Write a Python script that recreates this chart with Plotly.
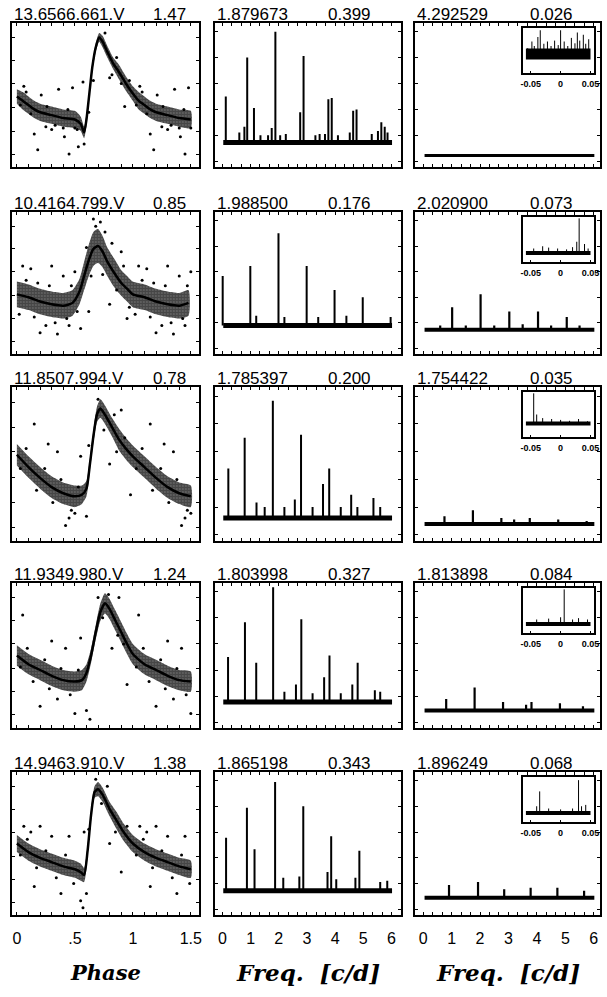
import plotly.graph_objects as go

# ---------------- data ----------------
star_ids = ["13.6566.661.V", "10.4164.799.V", "11.8507.994.V", "11.9349.980.V", "14.9463.910.V"]
star_amp = ["1.47", "0.85", "0.78", "1.24", "1.38"]
f1_text = ["1.879673", "1.988500", "1.785397", "1.803998", "1.865198"]
a1_text = ["0.399", "0.176", "0.200", "0.327", "0.343"]
f2_text = ["4.292529", "2.020900", "1.754422", "1.813898", "1.896249"]
a2_text = ["0.026", "0.073", "0.035", "0.084", "0.068"]

# light curves (relative brightness, 0 = bottom of frame, 1 = top)
lc_phase = [
    [0.00, 0.05, 0.10, 0.15, 0.20, 0.30, 0.40, 0.50, 0.55, 0.58, 0.60, 0.625, 0.65, 0.68, 0.71, 0.74, 0.78, 0.83, 0.88, 0.94, 1.00],
    [0.00, 0.10, 0.20, 0.30, 0.40, 0.48, 0.54, 0.58, 0.62, 0.66, 0.70, 0.74, 0.78, 0.84, 0.90, 0.95, 1.00],
    [0.00, 0.10, 0.20, 0.30, 0.40, 0.50, 0.56, 0.60, 0.63, 0.66, 0.69, 0.72, 0.76, 0.82, 0.88, 0.94, 1.00],
    [0.00, 0.10, 0.20, 0.30, 0.40, 0.50, 0.56, 0.60, 0.64, 0.68, 0.72, 0.76, 0.80, 0.85, 0.90, 0.95, 1.00],
    [0.00, 0.10, 0.20, 0.30, 0.40, 0.50, 0.55, 0.58, 0.61, 0.64, 0.67, 0.70, 0.74, 0.80, 0.86, 0.92, 1.00],
]
lc_mean = [
    [0.49, 0.46, 0.43, 0.40, 0.38, 0.36, 0.34, 0.33, 0.30, 0.24, 0.33, 0.51, 0.69, 0.83, 0.90, 0.87, 0.80, 0.72, 0.66, 0.58, 0.51],
    [0.42, 0.40, 0.37, 0.35, 0.34, 0.36, 0.44, 0.55, 0.66, 0.74, 0.76, 0.72, 0.65, 0.57, 0.50, 0.46, 0.42],
    [0.56, 0.48, 0.41, 0.35, 0.31, 0.29, 0.30, 0.34, 0.50, 0.68, 0.82, 0.86, 0.82, 0.74, 0.66, 0.60, 0.55],
    [0.50, 0.44, 0.40, 0.36, 0.33, 0.32, 0.33, 0.38, 0.50, 0.66, 0.80, 0.86, 0.82, 0.74, 0.66, 0.58, 0.51],
    [0.50, 0.44, 0.40, 0.37, 0.34, 0.32, 0.30, 0.28, 0.45, 0.70, 0.86, 0.88, 0.84, 0.74, 0.66, 0.58, 0.50],
]
lc_spread = [
    [0.05, 0.06, 0.06, 0.06, 0.06, 0.06, 0.06, 0.06, 0.05, 0.04, 0.04, 0.03, 0.03, 0.03, 0.03, 0.04, 0.04, 0.04, 0.05, 0.05, 0.05],
    [0.09, 0.09, 0.09, 0.09, 0.09, 0.09, 0.09, 0.10, 0.11, 0.12, 0.12, 0.11, 0.10, 0.10, 0.09, 0.09, 0.09],
    [0.07, 0.07, 0.07, 0.07, 0.07, 0.07, 0.06, 0.05, 0.04, 0.04, 0.05, 0.06, 0.06, 0.06, 0.07, 0.07, 0.07],
    [0.07, 0.07, 0.07, 0.07, 0.07, 0.07, 0.07, 0.06, 0.05, 0.05, 0.06, 0.07, 0.07, 0.07, 0.07, 0.07, 0.07],
    [0.06, 0.06, 0.06, 0.06, 0.06, 0.06, 0.06, 0.05, 0.04, 0.04, 0.04, 0.05, 0.05, 0.05, 0.06, 0.06, 0.06],
]
lc_out_phase = [
    [0.06, 0.18, 0.21, 0.36, 0.45, 0.48, 0.53, 0.57, 0.58, 0.93, 0.15, 0.41, 0.30, 0.40, 0.25, 0.52, 0.80, 0.62,
     0.03, 0.08, 0.12, 0.26, 0.33, 0.44, 0.50, 0.66, 0.76, 0.82, 0.86, 0.90, 0.97],
    [0.05, 0.12, 0.20, 0.25, 0.35, 0.40, 0.45, 0.50, 0.55, 0.62, 0.66, 0.72, 0.80, 0.90, 0.95, 0.30,
     0.02, 0.08, 0.15, 0.18, 0.28, 0.33, 0.43, 0.47, 0.52, 0.60, 0.64, 0.68, 0.76, 0.74, 0.82, 0.86, 0.92, 0.97],
    [0.15, 0.27, 0.35, 0.45, 0.50, 0.55, 0.60, 0.62, 0.80, 0.90, 0.98, 0.42,
     0.03, 0.08, 0.17, 0.24, 0.31, 0.38, 0.47, 0.53, 0.70, 0.75, 0.84, 0.86, 0.93],
    [0.05, 0.20, 0.30, 0.42, 0.50, 0.55, 0.60, 0.63, 0.82, 0.88, 0.95, 0.35,
     0.03, 0.09, 0.14, 0.24, 0.28, 0.38, 0.46, 0.53, 0.70, 0.74, 0.79, 0.87, 0.92],
    [0.06, 0.12, 0.20, 0.30, 0.45, 0.55, 0.57, 0.60, 0.58, 0.62, 0.80, 0.90, 0.15, 0.38,
     0.03, 0.09, 0.17, 0.25, 0.34, 0.42, 0.49, 0.68, 0.73, 0.78, 0.85, 0.95],
]
lc_out_val = [
    [0.56, 0.12, 0.50, 0.54, 0.09, 0.55, 0.14, 0.59, 0.16, 0.42, 0.23, 0.21, 0.26, 0.27, 0.28, 0.26, 0.62, 0.38,
     0.43, 0.52, 0.37, 0.42, 0.29, 0.40, 0.27, 0.60, 0.93, 0.64, 0.76, 0.58, 0.60],
    [0.62, 0.60, 0.15, 0.20, 0.14, 0.55, 0.20, 0.58, 0.18, 0.30, 0.95, 0.93, 0.35, 0.72, 0.25, 0.62,
     0.28, 0.52, 0.26, 0.50, 0.48, 0.22, 0.25, 0.48, 0.30, 0.75, 0.55, 0.90, 0.86, 0.56, 0.78, 0.45, 0.62, 0.33],
    [0.76, 0.63, 0.58, 0.15, 0.18, 0.55, 0.16, 0.62, 0.50, 0.85, 0.30, 0.10,
     0.47, 0.60, 0.33, 0.47, 0.25, 0.40, 0.20, 0.35, 0.92, 0.72, 0.82, 0.58, 0.67],
    [0.78, 0.15, 0.60, 0.55, 0.10, 0.62, 0.12, 0.06, 0.55, 0.90, 0.30, 0.20,
     0.42, 0.55, 0.32, 0.47, 0.27, 0.41, 0.23, 0.40, 0.90, 0.76, 0.92, 0.64, 0.58],
    [0.62, 0.58, 0.62, 0.55, 0.55, 0.10, 0.05, 0.15, 0.58, 0.60, 0.50, 0.30, 0.20, 0.15,
     0.42, 0.53, 0.33, 0.45, 0.26, 0.42, 0.22, 0.95, 0.78, 0.90, 0.58, 0.62],
]

# periodograms (first frequency search): peak frequencies [c/d] and heights
sp1_base = [0.17, 0.20, 0.15, 0.18, 0.17]
sp1_freq = [
    [0.12, 0.60, 0.78, 0.88, 1.12, 1.35, 1.62, 1.75, 1.88, 2.05, 2.25, 2.76, 2.88, 3.30, 3.45, 3.64, 3.76, 3.88, 4.10, 4.52, 4.64, 4.76, 5.30, 5.52, 5.64, 5.76, 5.86],
    [0.01, 0.99, 1.20, 1.99, 2.20, 2.99, 3.40, 3.98, 4.40, 4.98, 5.97],
    [0.21, 0.79, 1.21, 1.50, 1.79, 2.20, 2.57, 2.79, 3.20, 3.57, 3.79, 4.20, 4.57, 4.79, 5.36, 5.60],
    [0.20, 0.80, 1.20, 1.80, 2.20, 2.61, 2.80, 3.20, 3.61, 3.80, 4.20, 4.61, 4.80, 5.41, 5.60],
    [0.13, 0.87, 1.14, 1.87, 2.16, 2.73, 2.87, 3.73, 3.86, 4.04, 4.72, 4.86, 5.60, 5.85],
]
sp1_pow = [
    [0.49, 0.24, 0.28, 0.76, 0.41, 0.22, 0.22, 0.27, 0.94, 0.22, 0.23, 0.38, 0.77, 0.22, 0.23, 0.23, 0.47, 0.48, 0.22, 0.24, 0.39, 0.40, 0.23, 0.25, 0.31, 0.28, 0.24],
    [0.55, 0.62, 0.27, 0.85, 0.26, 0.62, 0.26, 0.45, 0.27, 0.40, 0.26],
    [0.47, 0.67, 0.25, 0.22, 0.91, 0.22, 0.27, 0.69, 0.22, 0.37, 0.47, 0.22, 0.30, 0.22, 0.28, 0.22],
    [0.49, 0.73, 0.45, 0.97, 0.25, 0.30, 0.75, 0.24, 0.35, 0.50, 0.24, 0.30, 0.45, 0.26, 0.25],
    [0.54, 0.75, 0.46, 0.93, 0.26, 0.27, 0.76, 0.30, 0.55, 0.25, 0.26, 0.45, 0.23, 0.24],
]

# periodograms after prewhitening
sp2_base = [0.08, 0.17, 0.11, 0.12, 0.12]
sp2_freq = [
    [],
    [0.60, 1.02, 1.50, 2.02, 2.50, 3.03, 3.50, 4.04, 4.50, 5.05, 5.50],
    [0.75, 1.75, 2.75, 3.20, 3.75, 4.75, 5.75],
    [0.81, 1.81, 2.81, 3.62, 3.81, 4.81, 5.62],
    [0.91, 1.93, 2.85, 3.78, 4.72, 5.66],
]
sp2_pow = [
    [],
    [0.20, 0.33, 0.20, 0.42, 0.20, 0.30, 0.21, 0.30, 0.20, 0.26, 0.20],
    [0.16, 0.20, 0.15, 0.14, 0.15, 0.14, 0.13],
    [0.20, 0.28, 0.18, 0.16, 0.18, 0.17, 0.15],
    [0.21, 0.23, 0.18, 0.19, 0.19, 0.17],
]

# insets: spectral window around the frequency
win_base = [0.42, 0.20, 0.30, 0.20, 0.20]
win_freq = [
    [-0.055, -0.048, -0.044, -0.038, -0.034, -0.028, -0.022, -0.016, -0.010, -0.004, 0.000, 0.006, 0.012, 0.018, 0.024, 0.028, 0.032, 0.038, 0.042, 0.047],
    [-0.045, -0.030, -0.020, -0.005, 0.010, 0.020, 0.027, 0.031, 0.040, 0.046],
    [-0.045, -0.040, -0.030, -0.015, 0.000, 0.015, 0.030, 0.045],
    [-0.040, -0.020, 0.000, 0.006, 0.020, 0.030, 0.045],
    [-0.040, -0.035, -0.020, 0.000, 0.020, 0.030, 0.035, 0.042],
]
win_pow = [
    [0.55, 0.70, 0.60, 0.80, 0.95, 0.65, 0.70, 0.60, 0.72, 0.62, 0.95, 0.70, 0.60, 0.78, 0.66, 0.90, 0.72, 0.85, 0.65, 0.75],
    [0.30, 0.35, 0.32, 0.30, 0.28, 0.33, 0.45, 0.97, 0.40, 0.30],
    [0.97, 0.50, 0.42, 0.40, 0.38, 0.36, 0.40, 0.35],
    [0.30, 0.32, 0.35, 0.97, 0.30, 0.33, 0.30],
    [0.35, 0.68, 0.30, 0.28, 0.30, 0.93, 0.35, 0.38],
]

phase_ticks = [round(0.1 * i, 1) for i in range(0, 16)]
phase_labels = {0.0: "0", 0.5: ".5", 1.0: "1", 1.5: "1.5"}
freq_ticks = [round(i / 3, 4) for i in range(0, 19)]
freq_labels = {0: "0", 1: "1", 2: "2", 3: "3", 4: "4", 5: "5", 6: "6"}
win_ticks = [-0.05, 0.0, 0.05]
win_labels = ["-0.05", "0", "0.05"]

# ---------------- layout geometry (pixels) ----------------
W, H = 607, 997
col_x = [(10, 199), (215, 404), (418, 605)]
row_y = [(23, 167), (212, 354), (387, 541), (583, 728), (772, 915)]
x_ranges = [[-0.043, 1.568], [-0.28, 6.35], [-0.28, 6.22]]
inset_x = (527, 599)
inset_dy = (5, 50)
inset_range = [-0.063, 0.056]

def px_dom_x(a, b):
    return [a / W, b / W]

def px_dom_y(a, b):
    return [1 - b / H, 1 - a / H]

fig = go.Figure()
layout = dict(width=W, height=H, margin=dict(l=0, r=0, t=0, b=0),
              paper_bgcolor="white", plot_bgcolor="white", showlegend=False)
annotations = []
TF = "Liberation Sans, Arial, sans-serif"

def spikes(freqs, pows, base):
    xs, ys = [], []
    for f, p in zip(freqs, pows):
        xs += [f, f, None]
        ys += [base, p, None]
    return xs, ys

for r in range(5):
    y0, y1 = row_y[r]
    for c in range(3):
        k = r * 3 + c + 1
        x0, x1 = col_x[c]
        if c == 0:
            tv = phase_ticks
            tt = [phase_labels.get(v, "") for v in tv]
            yt = [0.09, 0.25, 0.41, 0.58, 0.74, 0.90]
        else:
            tv = freq_ticks
            tt = [freq_labels.get(round(v, 4), "") if abs(v - round(v)) < 1e-6 else "" for v in tv]
            yt = [0.04, 0.22, 0.40, 0.58, 0.76, 0.94]
        layout[f"xaxis{k}"] = dict(
            domain=px_dom_x(x0, x1), anchor=f"y{k}", range=x_ranges[c],
            showline=True, mirror="allticks", linecolor="black", linewidth=2,
            ticks="inside", ticklen=3, tickwidth=1, tickcolor="black",
            tickvals=tv, ticktext=tt, showticklabels=(r == 4),
            tickfont=dict(family=TF, size=16, color="black"), ticklabelstandoff=8,
            showgrid=False, zeroline=False)
        layout[f"yaxis{k}"] = dict(
            domain=px_dom_y(y0, y1), anchor=f"x{k}", range=[0, 1],
            showline=True, mirror="allticks", linecolor="black", linewidth=2,
            ticks="inside", ticklen=3, tickwidth=1, tickcolor="black",
            tickvals=yt, showticklabels=False, showgrid=False, zeroline=False)

        # panel titles
        if c == 0:
            left_t, right_t, rx = star_ids[r], star_amp[r], 187
        elif c == 1:
            left_t, right_t, rx = f1_text[r], a1_text[r], 374
        else:
            left_t, right_t, rx = f2_text[r], a2_text[r], 579
        for txt, xx, anc in [(left_t, x0 + 1, "left"), (right_t, rx, "right")]:
            annotations.append(dict(
                text=txt, x=xx / W, y=1 - (y0 - 1) / H, xref="paper", yref="paper",
                xanchor=anc, yanchor="bottom", showarrow=False,
                font=dict(family=TF, size=17, color="black"), borderpad=0, yshift=-3))

        xa, ya = f"x{k}", f"y{k}"
        if c == 0:
            ph, mn, sd = lc_phase[r], lc_mean[r], lc_spread[r]
            ext_p = ph + [p + 1 for p in ph if 0 < p <= 0.5]
            ext_m = mn + [m for p, m in zip(ph, mn) if 0 < p <= 0.5]
            ext_s = sd + [s for p, s in zip(ph, sd) if 0 < p <= 0.5]
            up = [m + s for m, s in zip(ext_m, ext_s)]
            lo = [m - s for m, s in zip(ext_m, ext_s)]
            fig.add_trace(go.Scatter(
                x=ext_p + ext_p[::-1], y=up + lo[::-1], xaxis=xa, yaxis=ya,
                mode="lines", fill="toself", line=dict(width=0, color="rgba(0,0,0,0)", shape="spline", smoothing=0.6),
                fillcolor="rgba(0,0,0,0)",
                fillpattern=dict(shape=".", fgcolor="black", bgcolor="rgba(0,0,0,0.45)", size=3, solidity=0.8),
                hoverinfo="skip"))
            fig.add_trace(go.Scatter(
                x=ext_p, y=ext_m, xaxis=xa, yaxis=ya, mode="lines",
                line=dict(width=2.5, color="black", shape="spline", smoothing=0.6), hoverinfo="skip"))
            op, ov = lc_out_phase[r], lc_out_val[r]
            ox = op + [p + 1 for p in op if p <= 0.5]
            oy = ov + [v for p, v in zip(op, ov) if p <= 0.5]
            fig.add_trace(go.Scatter(
                x=ox, y=oy, xaxis=xa, yaxis=ya, mode="markers",
                marker=dict(size=3, color="black"), hoverinfo="skip"))
        elif c == 1:
            b = sp1_base[r]
            fig.add_trace(go.Scatter(x=[0.03, 6.02], y=[b, b], xaxis=xa, yaxis=ya, mode="lines",
                                     line=dict(width=5, color="black"), hoverinfo="skip"))
            sx, sy = spikes(sp1_freq[r], sp1_pow[r], b)
            fig.add_trace(go.Scatter(x=sx, y=sy, xaxis=xa, yaxis=ya, mode="lines",
                                     line=dict(width=2, color="black"), hoverinfo="skip"))
        else:
            b = sp2_base[r]
            fig.add_trace(go.Scatter(x=[0.05, 6.02], y=[b, b], xaxis=xa, yaxis=ya, mode="lines",
                                     line=dict(width=3 if r == 0 else 4, color="black"), hoverinfo="skip"))
            if sp2_freq[r]:
                sx, sy = spikes(sp2_freq[r], sp2_pow[r], b)
                fig.add_trace(go.Scatter(x=sx, y=sy, xaxis=xa, yaxis=ya, mode="lines",
                                         line=dict(width=2.2, color="black"), hoverinfo="skip"))

    # inset
    k = 16 + r
    iy0, iy1 = y0 + inset_dy[0], y0 + inset_dy[1]
    layout[f"xaxis{k}"] = dict(
        domain=px_dom_x(*inset_x), anchor=f"y{k}", range=inset_range,
        showline=True, mirror=True, linecolor="black", linewidth=1.5,
        ticks="inside", ticklen=2, tickwidth=1, tickcolor="black",
        tickvals=win_ticks, ticktext=win_labels, showticklabels=True,
        tickfont=dict(family=TF, size=9, color="black", weight="bold"), ticklabelstandoff=1,
        showgrid=False, zeroline=False)
    layout[f"yaxis{k}"] = dict(
        domain=px_dom_y(iy0, iy1), anchor=f"x{k}", range=[0, 1],
        showline=True, mirror=True, linecolor="black", linewidth=1.5,
        ticks="", showticklabels=False, showgrid=False, zeroline=False)
    xa, ya = f"x{k}", f"y{k}"
    b = win_base[r]
    fig.add_trace(go.Scatter(x=[-0.058, 0.05], y=[b, b], xaxis=xa, yaxis=ya, mode="lines",
                             line=dict(width=11 if r == 0 else 4, color="black"), hoverinfo="skip"))
    sx, sy = spikes(win_freq[r], win_pow[r], b)
    fig.add_trace(go.Scatter(x=sx, y=sy, xaxis=xa, yaxis=ya, mode="lines",
                             line=dict(width=1, color="black"), hoverinfo="skip"))

# axis titles
SF = "DejaVu Serif, serif"
for txt, cx, sz in [("Phase", 105, 21), ("Freq.\u00a0\u00a0[c/d]", 310, 23), ("Freq.\u00a0\u00a0[c/d]", 512, 23)]:
    annotations.append(dict(text=f"<b><i>{txt}</i></b>", x=cx / W, y=1 - 972 / H, xref="paper", yref="paper",
                            xanchor="center", yanchor="middle", showarrow=False,
                            font=dict(family=SF, size=sz, color="black")))

layout["annotations"] = annotations
fig.update_layout(**layout)
fig.write_html("out.html", config={"displayModeBar": False},
               post_script="document.body.style.margin='0px';document.body.style.overflow='hidden';")
